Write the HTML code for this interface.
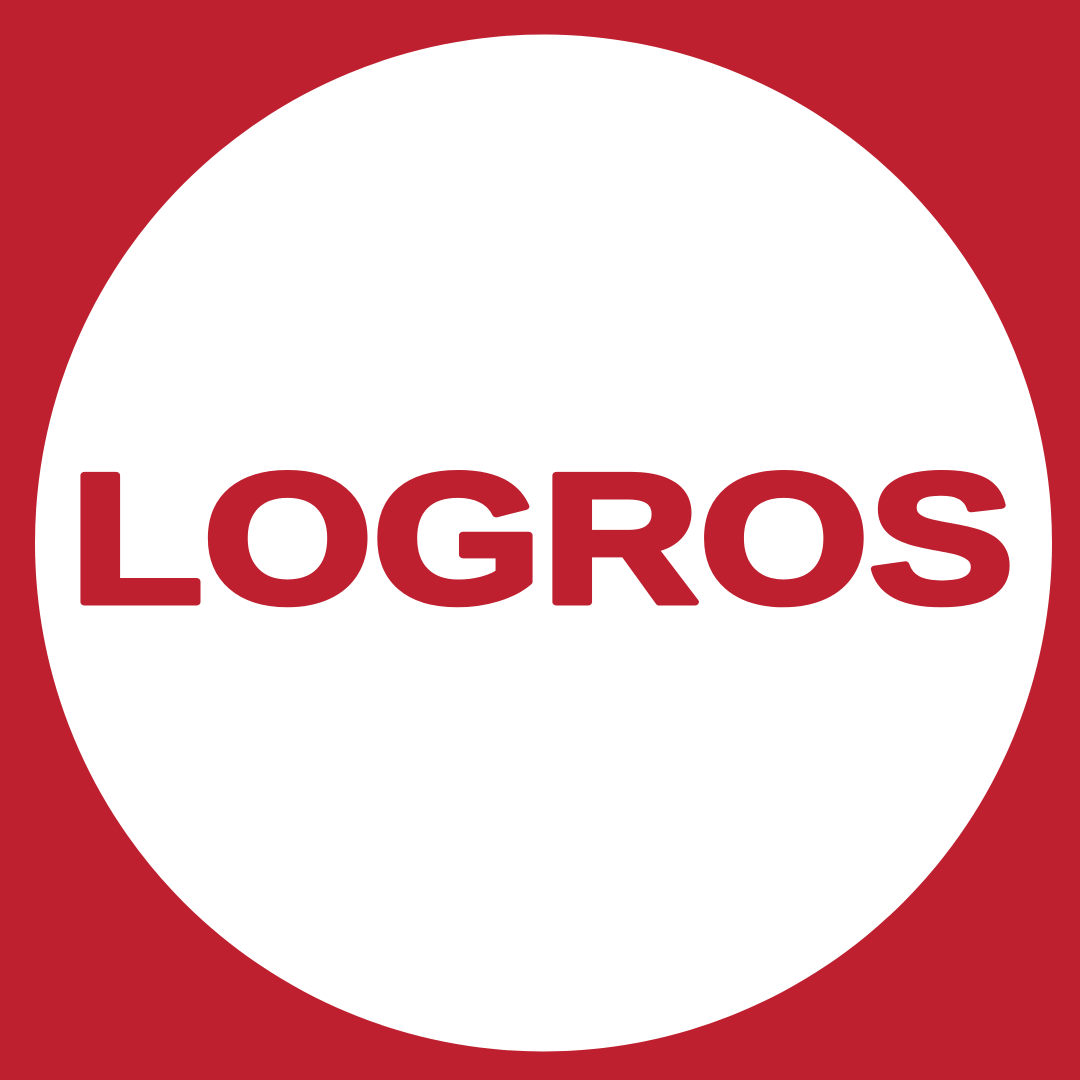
<!DOCTYPE html>
<html>
<head>
<meta charset="utf-8">
<style>
  html, body { margin: 0; padding: 0; width: 1080px; height: 1080px; overflow: hidden; background: #BE202F; }
  svg { display: block; }
</style>
</head>
<body>
<svg width="1080" height="1080" viewBox="0 0 1080 1080">
  <rect x="0" y="0" width="1080" height="1080" fill="#BE202F"/>
  <circle cx="543.5" cy="543" r="508.5" fill="#FFFFFF"/>
  <text x="70" y="602" font-family="'Liberation Sans', sans-serif" font-weight="bold" font-size="184"
        fill="#BE202F" stroke="#BE202F" stroke-width="7" stroke-linejoin="round"
        textLength="944" lengthAdjust="spacingAndGlyphs"
       >LOGROS</text>
</svg>
</body>
</html>
